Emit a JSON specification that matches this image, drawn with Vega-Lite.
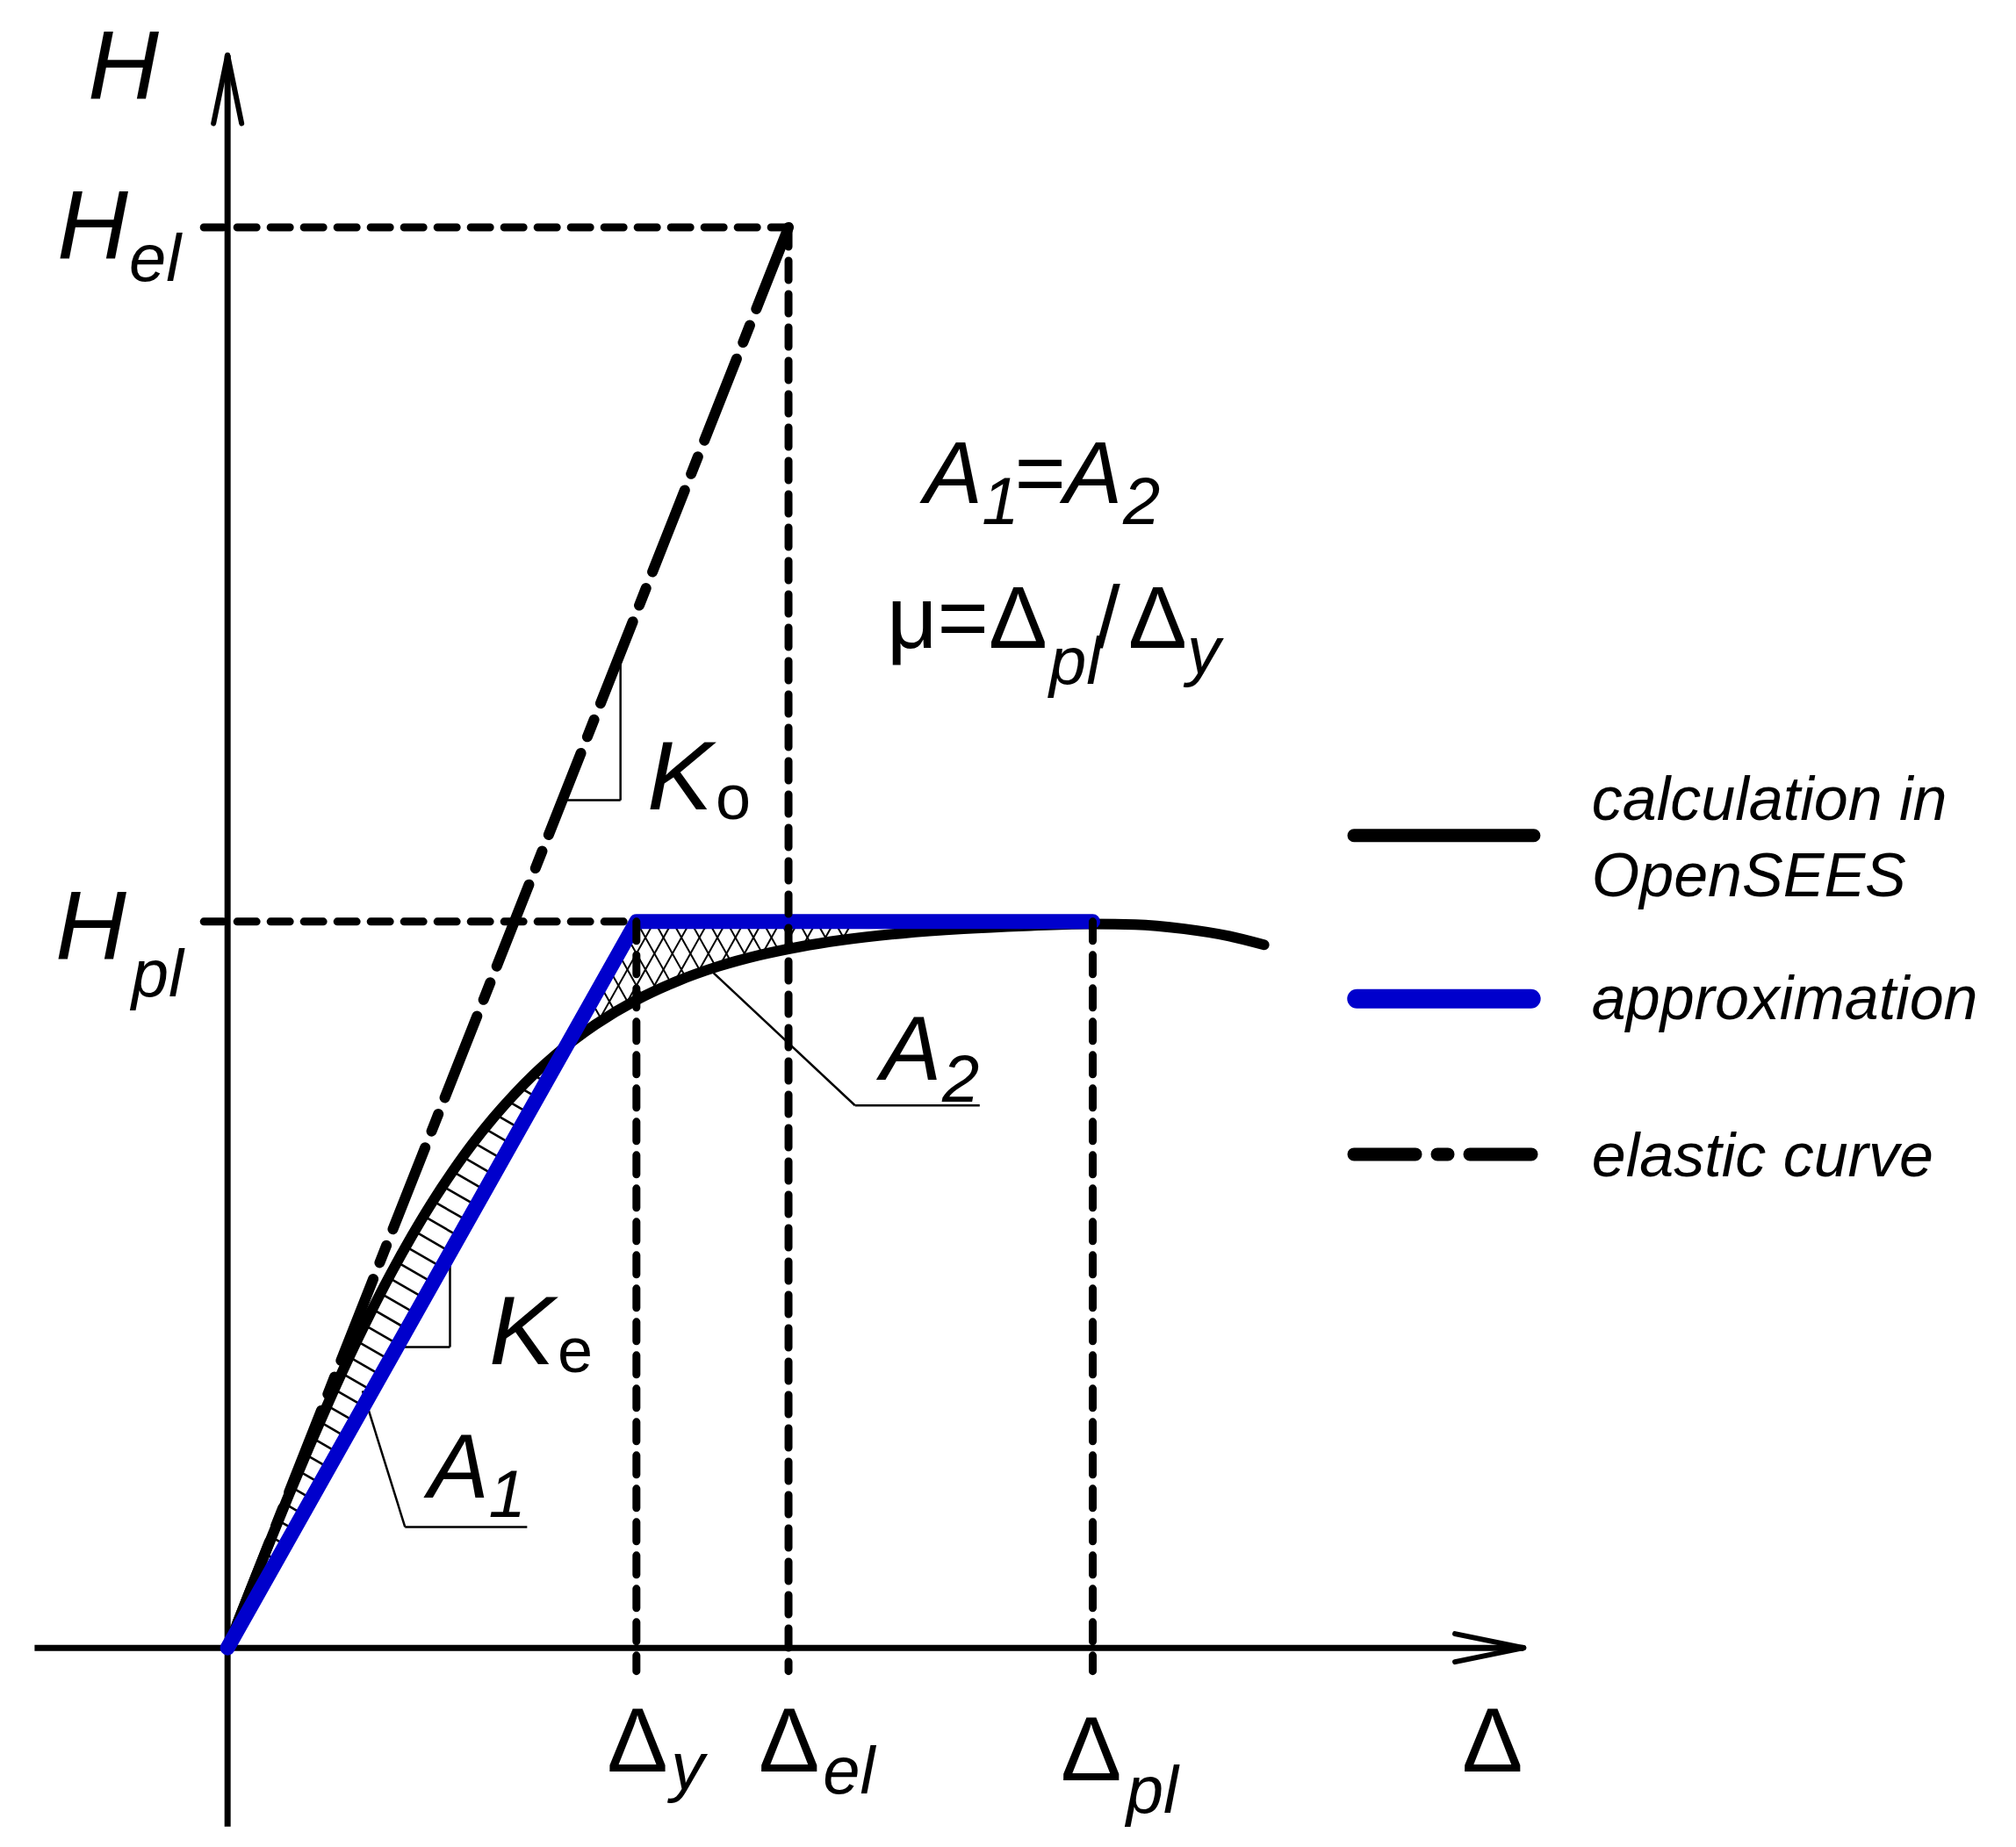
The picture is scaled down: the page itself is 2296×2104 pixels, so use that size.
{
  "$schema": "https://vega.github.io/schema/vega-lite/v6.json",
  "width": 2296,
  "height": 2104,
  "autosize": {"type": "fit", "contains": "padding"},
  "padding": 0,
  "background": "white",
  "config": {"view": {"stroke": null}},
  "datasets": {
    "segs": [
      {"kind": "hatch", "x": 0.5664, "y": 5.664, "x2": 0.4288, "y2": 6.111},
      {"kind": "hatch", "x": 0.7788, "y": 7.788, "x2": 0.5899, "y2": 8.401},
      {"kind": "hatch", "x": 0.9912, "y": 9.912, "x2": 0.7518, "y2": 10.69},
      {"kind": "hatch", "x": 1.2036, "y": 12.036, "x2": 0.9143, "y2": 12.975},
      {"kind": "hatch", "x": 1.416, "y": 14.16, "x2": 1.0776, "y2": 15.259},
      {"kind": "hatch", "x": 1.6284, "y": 16.284, "x2": 1.2413, "y2": 17.541},
      {"kind": "hatch", "x": 1.8408, "y": 18.408, "x2": 1.4063, "y2": 19.819},
      {"kind": "hatch", "x": 2.0532, "y": 20.532, "x2": 1.5726, "y2": 22.093},
      {"kind": "hatch", "x": 2.2656, "y": 22.656, "x2": 1.7398, "y2": 24.364},
      {"kind": "hatch", "x": 2.478, "y": 24.78, "x2": 1.9082, "y2": 26.63},
      {"kind": "hatch", "x": 2.6904, "y": 26.904, "x2": 2.0782, "y2": 28.892},
      {"kind": "hatch", "x": 2.9028, "y": 29.028, "x2": 2.25, "y2": 31.148},
      {"kind": "hatch", "x": 3.1152, "y": 31.152, "x2": 2.4237, "y2": 33.398},
      {"kind": "hatch", "x": 3.3276, "y": 33.276, "x2": 2.6, "y2": 35.639},
      {"kind": "hatch", "x": 3.54, "y": 35.4, "x2": 2.7783, "y2": 37.874},
      {"kind": "hatch", "x": 3.7524, "y": 37.524, "x2": 2.9599, "y2": 40.098},
      {"kind": "hatch", "x": 3.9648, "y": 39.648, "x2": 3.1438, "y2": 42.314},
      {"kind": "hatch", "x": 4.1772, "y": 41.772, "x2": 3.3314, "y2": 44.519},
      {"kind": "hatch", "x": 4.3896, "y": 43.896, "x2": 3.5231, "y2": 46.71},
      {"kind": "hatch", "x": 4.602, "y": 46.02, "x2": 3.7182, "y2": 48.89},
      {"kind": "hatch", "x": 4.8144, "y": 48.144, "x2": 3.9188, "y2": 51.053},
      {"kind": "hatch", "x": 5.0268, "y": 50.268, "x2": 4.1246, "y2": 53.198},
      {"kind": "hatch", "x": 5.2392, "y": 52.392, "x2": 4.3356, "y2": 55.326},
      {"kind": "hatch", "x": 5.4516, "y": 54.516, "x2": 4.5524, "y2": 57.436},
      {"kind": "hatch", "x": 5.664, "y": 56.64, "x2": 4.7754, "y2": 59.526},
      {"kind": "hatch", "x": 5.8764, "y": 58.764, "x2": 5.0036, "y2": 61.598},
      {"kind": "hatch", "x": 6.0888, "y": 60.888, "x2": 5.2397, "y2": 63.646},
      {"kind": "hatch", "x": 6.3012, "y": 63.012, "x2": 5.4835, "y2": 65.668},
      {"kind": "hatch", "x": 6.5136, "y": 65.136, "x2": 5.7363, "y2": 67.66},
      {"kind": "hatch", "x": 6.726, "y": 67.26, "x2": 5.9996, "y2": 69.619},
      {"kind": "hatch", "x": 6.9384, "y": 69.384, "x2": 6.2725, "y2": 71.547},
      {"kind": "hatch", "x": 7.1508, "y": 71.508, "x2": 6.5555, "y2": 73.441},
      {"kind": "hatch", "x": 7.3632, "y": 73.632, "x2": 6.8513, "y2": 75.294},
      {"kind": "hatch", "x": 7.5756, "y": 75.756, "x2": 7.1581, "y2": 77.112},
      {"kind": "hatch", "x": 7.788, "y": 77.88, "x2": 7.4769, "y2": 78.89},
      {"kind": "hatch", "x": 8.0004, "y": 80.004, "x2": 7.811, "y2": 80.619},
      {"kind": "hatch", "x": 8.2128, "y": 82.128, "x2": 8.1588, "y2": 82.303},
      {"kind": "cross", "x": 8.6792, "y": 86.793, "x2": 8.8248, "y2": 85.338},
      {"kind": "cross", "x": 8.8994, "y": 88.993, "x2": 9.1597, "y2": 86.389},
      {"kind": "cross", "x": 9.1195, "y": 91.195, "x2": 9.4947, "y2": 87.442},
      {"kind": "cross", "x": 9.3396, "y": 93.397, "x2": 9.8302, "y2": 88.496},
      {"kind": "cross", "x": 9.5597, "y": 95.598, "x2": 10.1758, "y2": 89.441},
      {"kind": "cross", "x": 9.7799, "y": 97.799, "x2": 10.5318, "y2": 90.278},
      {"kind": "cross", "x": 10.0, "y": 100, "x2": 10.8884, "y2": 91.117},
      {"kind": "cross", "x": 10.4403, "y": 100, "x2": 11.2447, "y2": 91.956},
      {"kind": "cross", "x": 10.8805, "y": 100, "x2": 11.6009, "y2": 92.795},
      {"kind": "cross", "x": 11.3208, "y": 100, "x2": 11.972, "y2": 93.487},
      {"kind": "cross", "x": 11.761, "y": 100, "x2": 12.3512, "y2": 94.097},
      {"kind": "cross", "x": 12.2013, "y": 100, "x2": 12.7305, "y2": 94.708},
      {"kind": "cross", "x": 12.6415, "y": 100, "x2": 13.1097, "y2": 95.317},
      {"kind": "cross", "x": 13.0818, "y": 100, "x2": 13.489, "y2": 95.927},
      {"kind": "cross", "x": 13.522, "y": 100, "x2": 13.8682, "y2": 96.428},
      {"kind": "cross", "x": 13.9623, "y": 100, "x2": 14.2811, "y2": 96.811},
      {"kind": "cross", "x": 14.4025, "y": 100, "x2": 14.6843, "y2": 97.182},
      {"kind": "cross", "x": 14.8428, "y": 100, "x2": 15.0871, "y2": 97.556},
      {"kind": "cross", "x": 10.4403, "y": 100, "x2": 9.0421, "y2": 86.019},
      {"kind": "cross", "x": 10.8805, "y": 100, "x2": 9.684, "y2": 88.034},
      {"kind": "cross", "x": 11.3208, "y": 100, "x2": 10.2921, "y2": 89.713},
      {"kind": "cross", "x": 11.761, "y": 100, "x2": 10.8679, "y2": 91.069},
      {"kind": "cross", "x": 12.2013, "y": 100, "x2": 11.4437, "y2": 92.425},
      {"kind": "cross", "x": 12.6415, "y": 100, "x2": 11.9937, "y2": 93.52},
      {"kind": "cross", "x": 13.0818, "y": 100, "x2": 12.5182, "y2": 94.365},
      {"kind": "cross", "x": 13.522, "y": 100, "x2": 13.0428, "y2": 95.209},
      {"kind": "cross", "x": 13.9623, "y": 100, "x2": 13.5673, "y2": 96.052},
      {"kind": "cross", "x": 14.4025, "y": 100, "x2": 14.0635, "y2": 96.611},
      {"kind": "cross", "x": 14.8428, "y": 100, "x2": 14.5487, "y2": 97.058},
      {"kind": "cross", "x": 15.283, "y": 100, "x2": 15.0336, "y2": 97.506},
      {"kind": "thin", "x": 8.186, "y": 116.71, "x2": 9.61, "y2": 116.71},
      {"kind": "thin", "x": 9.61, "y": 116.71, "x2": 9.61, "y2": 137.0},
      {"kind": "thin", "x": 4.142, "y": 41.42, "x2": 5.44, "y2": 41.42},
      {"kind": "thin", "x": 5.44, "y": 41.42, "x2": 5.44, "y2": 54.4},
      {"kind": "thin", "x": 11.887, "y": 92.92, "x2": 15.346, "y2": 74.69},
      {"kind": "thin", "x": 15.346, "y": 74.69, "x2": 18.396, "y2": 74.69},
      {"kind": "thin", "x": 3.302, "y": 35.4, "x2": 4.34, "y2": 16.64},
      {"kind": "thin", "x": 4.34, "y": 16.64, "x2": 7.327, "y2": 16.64},
      {"kind": "axis", "x": 0, "y": -24.6, "x2": 0, "y2": 219.3},
      {"kind": "axis", "x": -4.72, "y": 0, "x2": 31.7, "y2": 0},
      {"kind": "arrow", "x": 0, "y": 219.3, "x2": -0.344, "y2": 209.9},
      {"kind": "arrow", "x": 0, "y": 219.3, "x2": 0.344, "y2": 209.9},
      {"kind": "arrow", "x": 31.7, "y": 0, "x2": 30.02, "y2": 1.934},
      {"kind": "arrow", "x": 31.7, "y": 0, "x2": 30.02, "y2": -1.934},
      {"kind": "elastic", "x": 13.72, "y": 195.6, "x2": 0, "y2": 0},
      {"kind": "dash", "x": -0.58, "y": 195.6, "x2": 13.72, "y2": 195.6},
      {"kind": "dash", "x": -0.58, "y": 100, "x2": 10, "y2": 100},
      {"kind": "dash", "x": 10, "y": 100, "x2": 10, "y2": -3.2},
      {"kind": "dash", "x": 13.72, "y": 195.6, "x2": 13.72, "y2": -3.2},
      {"kind": "dash", "x": 21.16, "y": 100, "x2": 21.16, "y2": -3.2},
      {"kind": "legblack", "x": 27.55, "y": 111.86, "x2": 31.95, "y2": 111.86},
      {"kind": "legblue", "x": 27.62, "y": 89.38, "x2": 31.88, "y2": 89.38},
      {"kind": "legdd", "x": 27.55, "y": 67.96, "x2": 31.95, "y2": 67.96}
    ],
    "curve": [
      {"x": 0, "y": 0},
      {"x": 0.5, "y": 7.12},
      {"x": 1, "y": 14.17},
      {"x": 1.5, "y": 21.07},
      {"x": 2, "y": 27.78},
      {"x": 2.5, "y": 34.22},
      {"x": 3, "y": 40.36},
      {"x": 3.5, "y": 46.16},
      {"x": 4, "y": 51.6},
      {"x": 4.5, "y": 56.65},
      {"x": 5, "y": 61.32},
      {"x": 5.5, "y": 65.57},
      {"x": 6, "y": 69.47},
      {"x": 6.5, "y": 72.98},
      {"x": 7, "y": 76.14},
      {"x": 7.5, "y": 79.01},
      {"x": 8, "y": 81.55},
      {"x": 8.5, "y": 83.83},
      {"x": 9, "y": 85.84},
      {"x": 10, "y": 89.21},
      {"x": 11, "y": 91.81},
      {"x": 12, "y": 93.83},
      {"x": 13, "y": 95.37},
      {"x": 14, "y": 96.54},
      {"x": 15, "y": 97.44},
      {"x": 16.5, "y": 98.39},
      {"x": 18, "y": 99.01},
      {"x": 19.5, "y": 99.42},
      {"x": 21, "y": 99.69},
      {"x": 22.2, "y": 99.6},
      {"x": 23.4, "y": 99.0},
      {"x": 24.5, "y": 98.0},
      {"x": 25.35, "y": 96.8}
    ],
    "approx": [
      {"x": 0, "y": 0},
      {"x": 10, "y": 100},
      {"x": 21.16, "y": 100}
    ],
    "labels": [
      {"kind": "big", "t": "H", "x": -3.419, "y": 213.24},
      {"kind": "big", "t": "H", "x": -4.17, "y": 191.25},
      {"kind": "big", "t": "H", "x": -4.213, "y": 94.79},
      {"kind": "big", "t": "K", "x": 10.261, "y": 115.46},
      {"kind": "big", "t": "K", "x": 6.396, "y": 39.07},
      {"kind": "biga", "t": "A", "x": 4.906, "y": 20.71},
      {"kind": "biga", "t": "A", "x": 15.975, "y": 78.23},
      {"kind": "mid", "t": "A", "x": 17.03, "y": 157.64},
      {"kind": "mid", "t": "A", "x": 20.45, "y": 157.64},
      {"kind": "midn", "t": "=", "x": 19.25, "y": 157.64},
      {"kind": "midn", "t": "μ=Δ", "x": 16.124, "y": 137.7},
      {"kind": "midn", "t": "/", "x": 21.236, "y": 137.7},
      {"kind": "midn", "t": "Δ", "x": 22.03, "y": 137.7},
      {"kind": "sub", "t": "el", "x": -2.409, "y": 188.23},
      {"kind": "sub", "t": "pl", "x": -2.35, "y": 89.72},
      {"kind": "sub", "t": "1", "x": 18.45, "y": 154.74},
      {"kind": "sub", "t": "2", "x": 21.9, "y": 154.74},
      {"kind": "sub", "t": "pl", "x": 20.097, "y": 132.74},
      {"kind": "sub", "t": "y", "x": 23.469, "y": 134.19},
      {"kind": "sub", "t": "1", "x": 6.384, "y": 18.05},
      {"kind": "sub", "t": "2", "x": 17.48, "y": 75.22},
      {"kind": "sub", "t": "y", "x": 10.849, "y": -19.47},
      {"kind": "sub", "t": "el", "x": 14.56, "y": -20.0},
      {"kind": "sub", "t": "pl", "x": 21.98, "y": -22.65},
      {"kind": "subn", "t": "o", "x": 11.937, "y": 114.12},
      {"kind": "subn", "t": "e", "x": 8.071, "y": 37.98},
      {"kind": "delta", "t": "Δ", "x": 9.277, "y": -16.99},
      {"kind": "delta", "t": "Δ", "x": 12.987, "y": -16.99},
      {"kind": "delta", "t": "Δ", "x": 20.377, "y": -18.23},
      {"kind": "delta", "t": "Δ", "x": 30.189, "y": -16.99},
      {"kind": "legend", "t": "calculation in", "x": 33.365, "y": 113.98},
      {"kind": "legend", "t": "OpenSEES", "x": 33.365, "y": 103.54},
      {"kind": "legend", "t": "approximation", "x": 33.365, "y": 86.55},
      {"kind": "legend", "t": "elastic curve", "x": 33.365, "y": 64.96}
    ]
  },
  "encoding": {
    "x": {"field": "x", "type": "quantitative", "scale": {"domain": [-5.566, 43.742], "nice": false, "zero": false}, "axis": null},
    "y": {"field": "y", "type": "quantitative", "scale": {"domain": [-27.42, 226.9], "nice": false, "zero": false}, "axis": null}
  },
  "layer": [
    {"data": {"name": "segs"}, "transform": [{"filter": "datum.kind === 'hatch'"}],
     "mark": {"type": "rule", "color": "black", "strokeWidth": 2.6},
     "encoding": {"x2": {"field": "x2"}, "y2": {"field": "y2"}}},
    {"data": {"name": "segs"}, "transform": [{"filter": "datum.kind === 'cross'"}],
     "mark": {"type": "rule", "color": "black", "strokeWidth": 2},
     "encoding": {"x2": {"field": "x2"}, "y2": {"field": "y2"}}},
    {"data": {"name": "segs"}, "transform": [{"filter": "datum.kind === 'thin'"}],
     "mark": {"type": "rule", "color": "black", "strokeWidth": 2.5},
     "encoding": {"x2": {"field": "x2"}, "y2": {"field": "y2"}}},
    {"data": {"name": "segs"}, "transform": [{"filter": "datum.kind === 'axis'"}],
     "mark": {"type": "rule", "color": "black", "strokeWidth": 7},
     "encoding": {"x2": {"field": "x2"}, "y2": {"field": "y2"}}},
    {"data": {"name": "segs"}, "transform": [{"filter": "datum.kind === 'arrow'"}],
     "mark": {"type": "rule", "color": "black", "strokeWidth": 6, "strokeCap": "round"},
     "encoding": {"x2": {"field": "x2"}, "y2": {"field": "y2"}}},
    {"data": {"name": "segs"}, "transform": [{"filter": "datum.kind === 'elastic'"}],
     "mark": {"type": "rule", "color": "black", "strokeWidth": 12, "strokeCap": "round", "strokeDash": [100, 20, 21, 20]},
     "encoding": {"x2": {"field": "x2"}, "y2": {"field": "y2"}}},
    {"data": {"name": "curve"},
     "mark": {"type": "line", "color": "black", "strokeWidth": 12, "interpolate": "monotone", "strokeCap": "round"}},
    {"data": {"name": "approx"},
     "mark": {"type": "line", "color": "#0000cc", "strokeWidth": 17, "strokeCap": "round", "strokeJoin": "round"}},
    {"data": {"name": "segs"}, "transform": [{"filter": "datum.kind === 'dash'"}],
     "mark": {"type": "rule", "color": "black", "strokeWidth": 9, "strokeCap": "round", "strokeDash": [22, 16]},
     "encoding": {"x2": {"field": "x2"}, "y2": {"field": "y2"}}},
    {"data": {"name": "segs"}, "transform": [{"filter": "datum.kind === 'legblack'"}],
     "mark": {"type": "rule", "color": "black", "strokeWidth": 15, "strokeCap": "round"},
     "encoding": {"x2": {"field": "x2"}, "y2": {"field": "y2"}}},
    {"data": {"name": "segs"}, "transform": [{"filter": "datum.kind === 'legblue'"}],
     "mark": {"type": "rule", "color": "#0000cc", "strokeWidth": 22, "strokeCap": "round"},
     "encoding": {"x2": {"field": "x2"}, "y2": {"field": "y2"}}},
    {"data": {"name": "segs"}, "transform": [{"filter": "datum.kind === 'legdd'"}],
     "mark": {"type": "rule", "color": "black", "strokeWidth": 15, "strokeCap": "round", "strokeDash": [70, 25, 12, 25]},
     "encoding": {"x2": {"field": "x2"}, "y2": {"field": "y2"}}},
    {"data": {"name": "labels"}, "transform": [{"filter": "datum.kind === 'big'"}],
     "mark": {"type": "text", "align": "left", "baseline": "alphabetic", "font": "Liberation Sans", "fontStyle": "italic", "fontSize": 112, "color": "black"},
     "encoding": {"text": {"field": "t"}}},
    {"data": {"name": "labels"}, "transform": [{"filter": "datum.kind === 'biga'"}],
     "mark": {"type": "text", "align": "left", "baseline": "alphabetic", "font": "Liberation Sans", "fontStyle": "italic", "fontSize": 104, "color": "black"},
     "encoding": {"text": {"field": "t"}}},
    {"data": {"name": "labels"}, "transform": [{"filter": "datum.kind === 'mid'"}],
     "mark": {"type": "text", "align": "left", "baseline": "alphabetic", "font": "Liberation Sans", "fontStyle": "italic", "fontSize": 100, "color": "black"},
     "encoding": {"text": {"field": "t"}}},
    {"data": {"name": "labels"}, "transform": [{"filter": "datum.kind === 'midn'"}],
     "mark": {"type": "text", "align": "left", "baseline": "alphabetic", "font": "Liberation Sans", "fontSize": 100, "color": "black"},
     "encoding": {"text": {"field": "t"}}},
    {"data": {"name": "labels"}, "transform": [{"filter": "datum.kind === 'sub'"}],
     "mark": {"type": "text", "align": "left", "baseline": "alphabetic", "font": "Liberation Sans", "fontStyle": "italic", "fontSize": 76, "color": "black"},
     "encoding": {"text": {"field": "t"}}},
    {"data": {"name": "labels"}, "transform": [{"filter": "datum.kind === 'subn'"}],
     "mark": {"type": "text", "align": "left", "baseline": "alphabetic", "font": "Liberation Sans", "fontSize": 72, "color": "black"},
     "encoding": {"text": {"field": "t"}}},
    {"data": {"name": "labels"}, "transform": [{"filter": "datum.kind === 'delta'"}],
     "mark": {"type": "text", "align": "left", "baseline": "alphabetic", "font": "Liberation Sans", "fontSize": 104, "color": "black"},
     "encoding": {"text": {"field": "t"}}},
    {"data": {"name": "labels"}, "transform": [{"filter": "datum.kind === 'legend'"}],
     "mark": {"type": "text", "align": "left", "baseline": "alphabetic", "font": "Liberation Sans", "fontStyle": "italic", "fontSize": 70, "color": "black"},
     "encoding": {"text": {"field": "t"}}}
  ]
}
